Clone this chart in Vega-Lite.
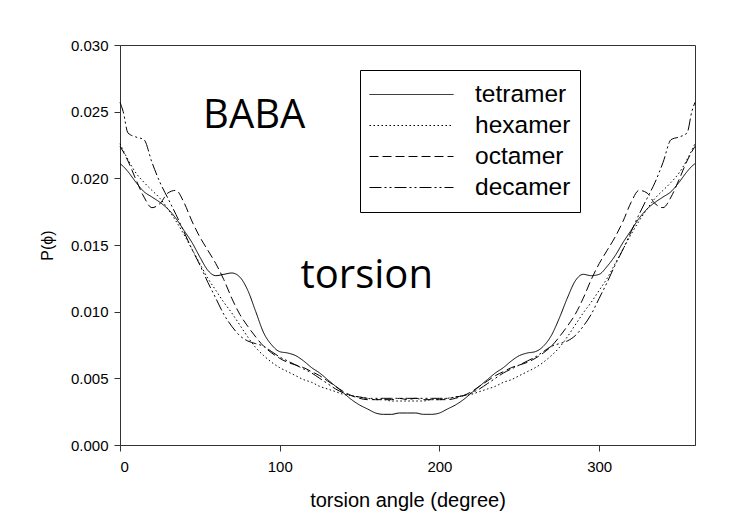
{
  "$schema": "https://vega.github.io/schema/vega-lite/v6.json",
  "autosize": {"type": "none"},
  "width": 575,
  "height": 400,
  "padding": {"left": 120, "top": 45, "right": 38, "bottom": 80},
  "background": "white",
  "config": {
    "font": "Liberation Sans",
    "view": {"stroke": "#333", "strokeWidth": 1},
    "axis": {
      "domainColor": "#333",
      "tickColor": "#333",
      "labelColor": "#000",
      "titleColor": "#000",
      "grid": false,
      "labelFontSize": 15,
      "titleFontSize": 20,
      "titleFontWeight": "normal",
      "tickSize": 6
    }
  },
  "layer": [
    {
      "data": {
        "values": [
          {"angle": 0, "tetramer": 0.0211, "hexamer": 0.0226, "octamer": 0.0224, "decamer": 0.0257},
          {"angle": 2, "tetramer": 0.0209, "hexamer": 0.0221, "octamer": 0.0220, "decamer": 0.0250},
          {"angle": 5, "tetramer": 0.0205, "hexamer": 0.0214, "octamer": 0.0213, "decamer": 0.0234},
          {"angle": 10, "tetramer": 0.0197, "hexamer": 0.0204, "octamer": 0.0199, "decamer": 0.0231},
          {"angle": 15, "tetramer": 0.0190, "hexamer": 0.0197, "octamer": 0.0186, "decamer": 0.0229},
          {"angle": 20, "tetramer": 0.0186, "hexamer": 0.0191, "octamer": 0.0178, "decamer": 0.0212},
          {"angle": 25, "tetramer": 0.0182, "hexamer": 0.0185, "octamer": 0.0181, "decamer": 0.0197},
          {"angle": 30, "tetramer": 0.0177, "hexamer": 0.0177, "octamer": 0.0189, "decamer": 0.0185},
          {"angle": 35, "tetramer": 0.0170, "hexamer": 0.0168, "octamer": 0.0191, "decamer": 0.0173},
          {"angle": 40, "tetramer": 0.0161, "hexamer": 0.0158, "octamer": 0.0182, "decamer": 0.0160},
          {"angle": 45, "tetramer": 0.0152, "hexamer": 0.0147, "octamer": 0.0168, "decamer": 0.0147},
          {"angle": 50, "tetramer": 0.0141, "hexamer": 0.0136, "octamer": 0.0156, "decamer": 0.0135},
          {"angle": 55, "tetramer": 0.0131, "hexamer": 0.0125, "octamer": 0.0146, "decamer": 0.0122},
          {"angle": 60, "tetramer": 0.0127, "hexamer": 0.0116, "octamer": 0.0136, "decamer": 0.0110},
          {"angle": 65, "tetramer": 0.0128, "hexamer": 0.0107, "octamer": 0.0124, "decamer": 0.0098},
          {"angle": 70, "tetramer": 0.0129, "hexamer": 0.0099, "octamer": 0.0110, "decamer": 0.0089},
          {"angle": 75, "tetramer": 0.0126, "hexamer": 0.0090, "octamer": 0.0098, "decamer": 0.0082},
          {"angle": 80, "tetramer": 0.0116, "hexamer": 0.0081, "octamer": 0.0089, "decamer": 0.0078},
          {"angle": 85, "tetramer": 0.0100, "hexamer": 0.0073, "octamer": 0.0081, "decamer": 0.0076},
          {"angle": 90, "tetramer": 0.0084, "hexamer": 0.0067, "octamer": 0.0074, "decamer": 0.0074},
          {"angle": 95, "tetramer": 0.0075, "hexamer": 0.0062, "octamer": 0.0069, "decamer": 0.0070},
          {"angle": 100, "tetramer": 0.0070, "hexamer": 0.0058, "octamer": 0.0065, "decamer": 0.0066},
          {"angle": 105, "tetramer": 0.0069, "hexamer": 0.0055, "octamer": 0.0062, "decamer": 0.0063},
          {"angle": 110, "tetramer": 0.0067, "hexamer": 0.0052, "octamer": 0.0060, "decamer": 0.0060},
          {"angle": 115, "tetramer": 0.0063, "hexamer": 0.0049, "octamer": 0.0058, "decamer": 0.0057},
          {"angle": 120, "tetramer": 0.0058, "hexamer": 0.0047, "octamer": 0.0055, "decamer": 0.0054},
          {"angle": 125, "tetramer": 0.0054, "hexamer": 0.0044, "octamer": 0.0052, "decamer": 0.0050},
          {"angle": 130, "tetramer": 0.0049, "hexamer": 0.0042, "octamer": 0.0048, "decamer": 0.0046},
          {"angle": 135, "tetramer": 0.0044, "hexamer": 0.0040, "octamer": 0.0044, "decamer": 0.0042},
          {"angle": 140, "tetramer": 0.0039, "hexamer": 0.0038, "octamer": 0.0040, "decamer": 0.0039},
          {"angle": 145, "tetramer": 0.0034, "hexamer": 0.0037, "octamer": 0.0037, "decamer": 0.0037},
          {"angle": 150, "tetramer": 0.0030, "hexamer": 0.0036, "octamer": 0.0035, "decamer": 0.0036},
          {"angle": 155, "tetramer": 0.0027, "hexamer": 0.0035, "octamer": 0.0034, "decamer": 0.0035},
          {"angle": 160, "tetramer": 0.0024, "hexamer": 0.0034, "octamer": 0.0034, "decamer": 0.0035},
          {"angle": 165, "tetramer": 0.0023, "hexamer": 0.0034, "octamer": 0.0034, "decamer": 0.0035},
          {"angle": 170, "tetramer": 0.0023, "hexamer": 0.0033, "octamer": 0.0034, "decamer": 0.0035},
          {"angle": 175, "tetramer": 0.0024, "hexamer": 0.0033, "octamer": 0.0035, "decamer": 0.0035},
          {"angle": 180, "tetramer": 0.0024, "hexamer": 0.0033, "octamer": 0.0034, "decamer": 0.0035},
          {"angle": 185, "tetramer": 0.0024, "hexamer": 0.0033, "octamer": 0.0035, "decamer": 0.0035},
          {"angle": 190, "tetramer": 0.0023, "hexamer": 0.0033, "octamer": 0.0034, "decamer": 0.0035},
          {"angle": 195, "tetramer": 0.0023, "hexamer": 0.0034, "octamer": 0.0034, "decamer": 0.0035},
          {"angle": 200, "tetramer": 0.0024, "hexamer": 0.0034, "octamer": 0.0034, "decamer": 0.0035},
          {"angle": 205, "tetramer": 0.0027, "hexamer": 0.0035, "octamer": 0.0034, "decamer": 0.0035},
          {"angle": 210, "tetramer": 0.0030, "hexamer": 0.0036, "octamer": 0.0035, "decamer": 0.0036},
          {"angle": 215, "tetramer": 0.0034, "hexamer": 0.0037, "octamer": 0.0037, "decamer": 0.0037},
          {"angle": 220, "tetramer": 0.0039, "hexamer": 0.0038, "octamer": 0.0040, "decamer": 0.0039},
          {"angle": 225, "tetramer": 0.0044, "hexamer": 0.0040, "octamer": 0.0044, "decamer": 0.0042},
          {"angle": 230, "tetramer": 0.0049, "hexamer": 0.0042, "octamer": 0.0048, "decamer": 0.0046},
          {"angle": 235, "tetramer": 0.0054, "hexamer": 0.0044, "octamer": 0.0052, "decamer": 0.0050},
          {"angle": 240, "tetramer": 0.0058, "hexamer": 0.0047, "octamer": 0.0055, "decamer": 0.0054},
          {"angle": 245, "tetramer": 0.0063, "hexamer": 0.0049, "octamer": 0.0058, "decamer": 0.0057},
          {"angle": 250, "tetramer": 0.0067, "hexamer": 0.0052, "octamer": 0.0060, "decamer": 0.0060},
          {"angle": 255, "tetramer": 0.0069, "hexamer": 0.0055, "octamer": 0.0062, "decamer": 0.0063},
          {"angle": 260, "tetramer": 0.0070, "hexamer": 0.0058, "octamer": 0.0065, "decamer": 0.0066},
          {"angle": 265, "tetramer": 0.0074, "hexamer": 0.0062, "octamer": 0.0069, "decamer": 0.0070},
          {"angle": 270, "tetramer": 0.0082, "hexamer": 0.0067, "octamer": 0.0074, "decamer": 0.0074},
          {"angle": 275, "tetramer": 0.0095, "hexamer": 0.0073, "octamer": 0.0081, "decamer": 0.0076},
          {"angle": 280, "tetramer": 0.0110, "hexamer": 0.0081, "octamer": 0.0089, "decamer": 0.0078},
          {"angle": 285, "tetramer": 0.0123, "hexamer": 0.0090, "octamer": 0.0098, "decamer": 0.0082},
          {"angle": 290, "tetramer": 0.0128, "hexamer": 0.0099, "octamer": 0.0110, "decamer": 0.0089},
          {"angle": 295, "tetramer": 0.0127, "hexamer": 0.0107, "octamer": 0.0124, "decamer": 0.0098},
          {"angle": 300, "tetramer": 0.0128, "hexamer": 0.0116, "octamer": 0.0136, "decamer": 0.0110},
          {"angle": 305, "tetramer": 0.0134, "hexamer": 0.0125, "octamer": 0.0146, "decamer": 0.0122},
          {"angle": 310, "tetramer": 0.0142, "hexamer": 0.0136, "octamer": 0.0156, "decamer": 0.0135},
          {"angle": 315, "tetramer": 0.0152, "hexamer": 0.0147, "octamer": 0.0168, "decamer": 0.0147},
          {"angle": 320, "tetramer": 0.0161, "hexamer": 0.0158, "octamer": 0.0182, "decamer": 0.0160},
          {"angle": 325, "tetramer": 0.0170, "hexamer": 0.0168, "octamer": 0.0191, "decamer": 0.0173},
          {"angle": 330, "tetramer": 0.0177, "hexamer": 0.0177, "octamer": 0.0189, "decamer": 0.0185},
          {"angle": 335, "tetramer": 0.0182, "hexamer": 0.0185, "octamer": 0.0181, "decamer": 0.0197},
          {"angle": 340, "tetramer": 0.0186, "hexamer": 0.0191, "octamer": 0.0178, "decamer": 0.0212},
          {"angle": 345, "tetramer": 0.0190, "hexamer": 0.0197, "octamer": 0.0186, "decamer": 0.0229},
          {"angle": 350, "tetramer": 0.0197, "hexamer": 0.0204, "octamer": 0.0199, "decamer": 0.0231},
          {"angle": 355, "tetramer": 0.0205, "hexamer": 0.0214, "octamer": 0.0213, "decamer": 0.0234},
          {"angle": 358, "tetramer": 0.0209, "hexamer": 0.0221, "octamer": 0.0220, "decamer": 0.0250},
          {"angle": 360, "tetramer": 0.0211, "hexamer": 0.0226, "octamer": 0.0224, "decamer": 0.0257}
        ]
      },
      "transform": [{"fold": ["tetramer", "hexamer", "octamer", "decamer"], "as": ["series", "p"]}],
      "mark": {"type": "line", "color": "black", "strokeWidth": 1, "interpolate": "monotone"},
      "encoding": {
        "x": {
          "field": "angle",
          "type": "quantitative",
          "scale": {"domain": [0, 360], "nice": false},
          "axis": {"values": [0, 100, 200, 300], "title": "torsion angle (degree)", "labelPadding": 8, "titlePadding": 16}
        },
        "y": {
          "field": "p",
          "type": "quantitative",
          "scale": {"domain": [0, 0.03], "nice": false},
          "axis": {
            "values": [0, 0.005, 0.01, 0.015, 0.02, 0.025, 0.03],
            "format": ".3f",
            "title": "P(ϕ)",
            "titleFontSize": 16,
            "labelPadding": 6,
            "titlePadding": 15
          }
        },
        "strokeDash": {
          "field": "series",
          "type": "nominal",
          "scale": {
            "domain": ["tetramer", "hexamer", "octamer", "decamer"],
            "range": [[1, 0], [1.5, 2.5], [9, 4], [12, 3, 2, 3, 2, 3]]
          },
          "legend": {
            "title": null,
            "orient": "none",
            "legendX": 240,
            "legendY": 25,
            "symbolType": "stroke",
            "symbolSize": 7056,
            "symbolStrokeWidth": 1,
            "symbolStrokeColor": "black",
            "clipHeight": 31,
            "rowPadding": 0,
            "labelFontSize": 24.5,
            "labelOffset": 21,
            "labelColor": "#000",
            "labelFont": "Liberation Sans",
            "padding": 9,
            "strokeColor": "black",
            "fillColor": "white"
          }
        }
      }
    },
    {
      "data": {"values": [{"label": "BABA"}]},
      "mark": {"type": "text", "font": "Open Sans", "fontSize": 40, "align": "left", "baseline": "alphabetic", "color": "black"},
      "encoding": {
        "x": {"datum": 52},
        "y": {"datum": 0.0238},
        "text": {"field": "label"}
      }
    },
    {
      "data": {"values": [{"label": "torsion"}]},
      "mark": {"type": "text", "font": "Open Sans", "fontSize": 40, "align": "left", "baseline": "alphabetic", "color": "black"},
      "encoding": {
        "x": {"datum": 113},
        "y": {"datum": 0.0118},
        "text": {"field": "label"}
      }
    }
  ]
}
